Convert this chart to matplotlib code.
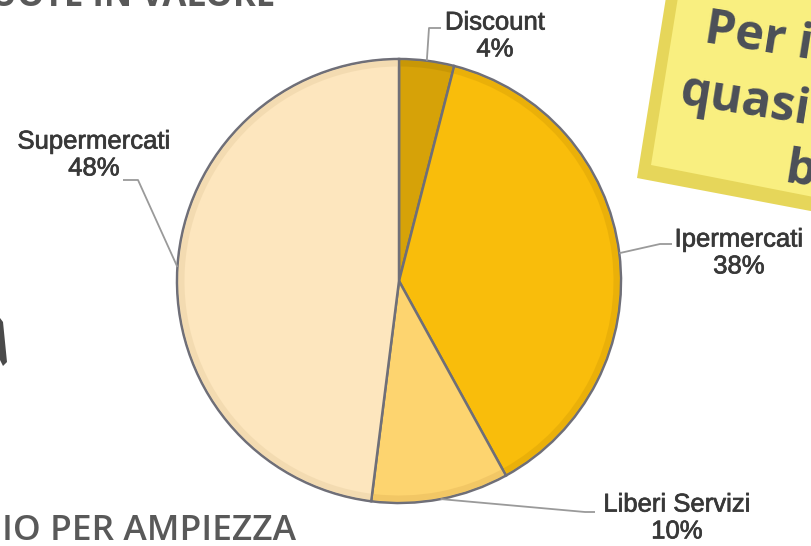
import matplotlib
matplotlib.use("Agg")
import matplotlib.pyplot as plt
from matplotlib.patches import Polygon, Wedge
import matplotlib.patheffects as pe
import numpy as np

# Share of sales by store format
categories = ["Discount", "Ipermercati", "Liberi Servizi", "Supermercati"]
shares = [4, 38, 10, 48]
colors = ["#D6A208", "#F9BD0B", "#FDD46F", "#FDE6BE"]
shade = ["#B98A05", "#D9A208", "#E6B85A", "#E8CFA2"]

W, H = 811, 546
fig = plt.figure(figsize=(W / 100, H / 100), dpi=100)
ax = fig.add_axes([0, 0, 1, 1])

cx, cy, r = 399, 281, 222

wedges, _ = ax.pie(shares, colors=colors, startangle=270, counterclock=True,
                   center=(cx, cy), radius=r,
                   wedgeprops=dict(edgecolor="#6f6f78", linewidth=1.8))
ax.set_xlim(0, W)
ax.set_ylim(H, 0)
ax.set_aspect("equal")
ax.axis("off")

# soft bevel: darker rim band inside each slice
for w, sc in zip(wedges, shade):
    ax.add_patch(Wedge((cx, cy), r - 1.5, w.theta1 + 0.4, w.theta2 - 0.4, width=6,
                       facecolor=sc, edgecolor="none", alpha=0.45, zorder=1.5))

label_font = dict(family="Liberation Sans", fontsize=18.5, color="#383838",
                  ha="center", va="center", linespacing=1.15,
                  path_effects=[pe.withStroke(linewidth=0.5, foreground="#383838")])

label_pos = {
    "Discount": (495, 36),
    "Ipermercati": (739, 253),
    "Liberi Servizi": (677, 518),
    "Supermercati": (94, 155),
}
# elbow points of the leader lines
elbows = {
    "Discount": [(429, 28), (441, 28)],
    "Ipermercati": [(660, 244), (672, 244)],
    "Liberi Servizi": [(585, 512), (595, 512)],
    "Supermercati": [(138, 180), (123, 180)],
}

for w, name, val in zip(wedges, categories, shares):
    mid = np.deg2rad((w.theta1 + w.theta2) / 2)
    sx, sy = cx + r * np.cos(mid), cy + r * np.sin(mid)
    pts = [(sx, sy)] + elbows[name]
    ax.plot([p[0] for p in pts], [p[1] for p in pts], color="#9a9a9a", lw=1.3,
            solid_capstyle="butt", zorder=1)
    lx, ly = label_pos[name]
    ax.text(lx, ly, f"{name}\n{val}%", **label_font)

# slide headings partly visible at the edges
ax.text(275, 6, "QUOTE IN VALORE", family="Open Sans", fontweight="bold",
        fontsize=25, color="#595959", ha="right", va="baseline")
ax.text(2, 540, "IO PER AMPIEZZA", family="Open Sans", fontweight="semibold",
        fontsize=25.5, color="#595959", ha="left", va="baseline")

# yellow callout box (rotated)
outer = [(672, -40), (637, 178), (900, 228), (935, 10)]
ax.add_patch(Polygon(outer, closed=True, facecolor="#E6D65A", edgecolor="none", zorder=2))
inner = [(684, -40), (651, 165), (900, 214), (935, 10)]
ax.add_patch(Polygon(inner, closed=True, facecolor="#F9EF80", edgecolor="none", zorder=2))

box_font = dict(family="Open Sans", fontweight="bold", fontsize=35, color="#4b4f58",
                rotation=-9, rotation_mode="anchor", ha="left", va="baseline", zorder=3)
ax.text(703, 42, "Per i", **box_font)
ax.text(679, 104, "quasi", **box_font)
ax.text(783, 182, "b", **box_font)

# dark sliver of a shape at the left edge
ax.add_patch(Polygon([(0, 318), (3, 322), (7, 362), (3, 366), (0, 360)],
                     closed=True, facecolor="#4a4a4a", edgecolor="none"))

fig.savefig("out.png", dpi=100)
